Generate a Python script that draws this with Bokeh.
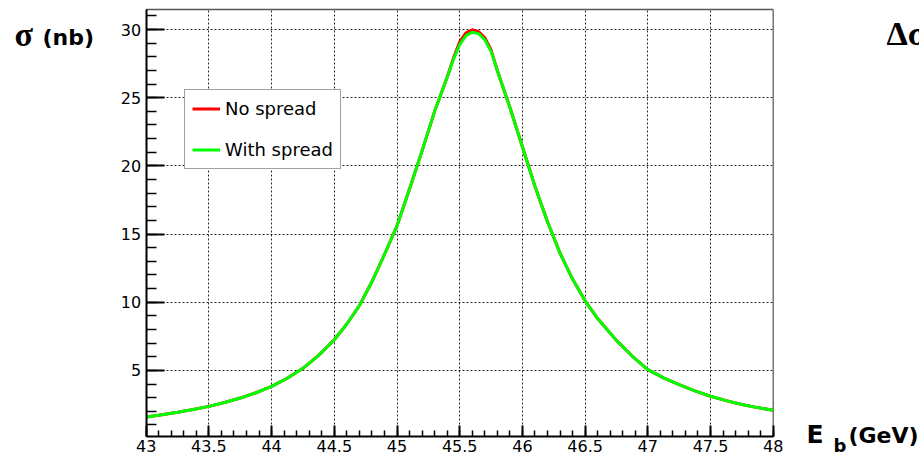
import numpy as np
from bokeh.plotting import figure
from bokeh.models import (Range1d, FixedTicker, CustomJSTickFormatter, Label, Grid)
from bokeh.embed import file_html
from bokeh.resources import INLINE

# ---- data ----
energy = [43.0, 43.125, 43.25, 43.375, 43.5, 43.625, 43.75, 43.875, 44.0, 44.125,
          44.25, 44.375, 44.5, 44.6, 44.7, 44.8, 44.9,
          45.0, 45.1, 45.2, 45.3, 45.4, 45.45, 45.5, 45.55, 45.6, 45.65, 45.7,
          45.75, 45.8, 45.9, 46.0, 46.1, 46.2, 46.3, 46.4, 46.5, 46.6, 46.675,
          46.75, 46.875, 47.0, 47.125, 47.25, 47.375, 47.5, 47.625, 47.75, 47.875, 48.0]
sigma_with_spread = [1.58, 1.74, 1.93, 2.13, 2.36, 2.64, 2.97, 3.36, 3.83, 4.42,
                     5.15, 6.1, 7.25, 8.4, 9.75, 11.5, 13.5,
                     15.6, 18.3, 21.1, 24.0, 26.5, 27.8, 28.9, 29.55, 29.8, 29.7, 29.25,
                     28.4, 27.0, 24.3, 21.4, 18.5, 15.9, 13.6, 11.7, 10.1, 8.8, 8.0,
                     7.2, 6.05, 5.05, 4.45, 3.95, 3.5, 3.1, 2.78, 2.5, 2.27, 2.07]
sigma_no_spread = [1.58, 1.74, 1.93, 2.13, 2.36, 2.64, 2.97, 3.36, 3.83, 4.42,
                   5.15, 6.1, 7.25, 8.4, 9.75, 11.5, 13.5,
                   15.6, 18.3, 21.1, 24.0, 26.5, 27.9, 29.1, 29.75, 29.98, 29.85, 29.4,
                   28.5, 27.0, 24.3, 21.4, 18.5, 15.9, 13.6, 11.7, 10.1, 8.8, 8.0,
                   7.2, 6.05, 5.05, 4.45, 3.95, 3.5, 3.1, 2.78, 2.5, 2.27, 2.07]
series_labels = ["No spread", "With spread"]

x_ticks = [43, 43.5, 44, 44.5, 45, 45.5, 46, 46.5, 47, 47.5, 48]
x_tick_labels = ["43", "43.5", "44", "44.5", "45", "45.5", "46", "46.5", "47", "47.5", "48"]
y_ticks = [5, 10, 15, 20, 25, 30]
y_tick_labels = ["5", "10", "15", "20", "25", "30"]

x_range = (43.0, 48.0)
y_range = (0.15, 31.47)

# ---- layout (pixels) ----
W, H = 919, 457
plot_left, plot_right, plot_top, plot_bottom = 145.7, 772.7, 9.0, 436.0

sx = (plot_right - plot_left) / (x_range[1] - x_range[0])
sy = (plot_bottom - plot_top) / (y_range[1] - y_range[0])
full_x = (x_range[0] - plot_left / sx, x_range[1] + (W - plot_right) / sx)
full_y = (y_range[0] - (H - plot_bottom) / sy, y_range[1] + plot_top / sy)

p = figure(width=W, height=H, output_backend="svg", toolbar_location=None,
           title=None, x_range=Range1d(*full_x), y_range=Range1d(*full_y),
           min_border=0, min_border_left=0, min_border_right=0,
           min_border_top=0, min_border_bottom=0)
p.background_fill_color = "white"
p.border_fill_color = "white"
p.outline_line_color = None

# ---- axes ----
xt = FixedTicker(ticks=x_ticks,
                 minor_ticks=[round(v, 1) for v in np.arange(43.0, 48.001, 0.1)])
yt = FixedTicker(ticks=y_ticks, minor_ticks=list(range(1, 32)))
p.xaxis.ticker = xt
p.yaxis.ticker = yt
p.xaxis.formatter = CustomJSTickFormatter(
    args=dict(t=x_ticks, l=x_tick_labels),
    code="const i = t.indexOf(tick); return i >= 0 ? l[i] : '';")
p.yaxis.formatter = CustomJSTickFormatter(
    args=dict(t=y_ticks, l=y_tick_labels),
    code="const i = t.indexOf(tick); return i >= 0 ? l[i] : '';")
p.xaxis.fixed_location = y_range[0]
p.xaxis.bounds = x_range
p.yaxis.fixed_location = x_range[0]
p.yaxis.bounds = y_range

for ax in (p.xaxis[0], p.yaxis[0]):
    ax.axis_line_color = "black"
    ax.axis_line_width = 2
    ax.major_tick_line_color = "black"
    ax.major_tick_line_width = 2
    ax.minor_tick_line_color = "black"
    ax.minor_tick_line_width = 1.5
    ax.major_tick_out = 0
    ax.minor_tick_out = 0
    ax.major_label_text_font = "DejaVu Sans"
    ax.major_label_text_font_size = "16px"
    ax.major_label_text_color = "black"

p.xaxis.major_tick_in = 11
p.xaxis.minor_tick_in = 6
p.xaxis.major_label_standoff = 3
p.yaxis.major_tick_in = 18
p.yaxis.minor_tick_in = 10
p.yaxis.major_label_standoff = 5

# ---- grid ----
grid_style = dict(line_color="black", line_alpha=0.85, line_width=1, line_dash="2 2")
if "cross_bounds" in Grid.properties():
    p.xgrid.cross_bounds = y_range
    p.ygrid.cross_bounds = x_range
    for g in (p.xgrid[0], p.ygrid[0]):
        g.grid_line_color = grid_style["line_color"]
        g.grid_line_alpha = grid_style["line_alpha"]
        g.grid_line_width = grid_style["line_width"]
        g.grid_line_dash = grid_style["line_dash"]
else:
    p.xgrid.visible = False
    p.ygrid.visible = False
    p.segment(x0=x_ticks, x1=x_ticks, y0=[y_range[0]] * len(x_ticks),
              y1=[y_range[1]] * len(x_ticks), **grid_style)
    p.segment(x0=[x_range[0]] * len(y_ticks), x1=[x_range[1]] * len(y_ticks),
              y0=y_ticks, y1=y_ticks, **grid_style)

# frame border (top and right)
p.line([x_range[0], x_range[1]], [y_range[1], y_range[1]], line_color="#555555",
       line_width=1.5)
p.line([x_range[1], x_range[1]], [y_range[0], y_range[1]], line_color="#777777",
       line_width=1.5)

# ---- curves ----
p.line(energy, sigma_no_spread, line_color="#ff0000", line_width=3,
       legend_label=series_labels[0])
p.line(energy, sigma_with_spread, line_color="#00ff00", line_width=3,
       legend_label=series_labels[1])

lg = p.legend[0]
lg.location = (184, H - 169)
lg.label_text_font = "DejaVu Sans"
lg.label_text_font_size = "18px"
lg.label_text_color = "black"
lg.padding = 7
lg.spacing = 18
lg.margin = 0
lg.glyph_width = 28
lg.glyph_height = 23
lg.label_height = 23
lg.label_standoff = 5
lg.border_line_color = "#444444"
lg.border_line_width = 1.5
lg.background_fill_color = "white"
lg.background_fill_alpha = 1.0


def lab(x, y, text, font, size):
    p.add_layout(Label(x=x, y=H - y, x_units="screen", y_units="screen", text=text,
                       text_font=font, text_font_style="bold", text_baseline="alphabetic",
                       text_font_size=size, text_color="black"))


# texts: (x from left, y from top)
lab(14, 34, "σ", "Liberation Serif", "34px")
lab(42, 37, "(nb)", "DejaVu Sans", "22px")
lab(886, 33, "Δσ", "Liberation Serif", "34px")
lab(806, 434, "E", "DejaVu Sans", "25px")
lab(833, 445, "b", "DejaVu Sans", "18px")
lab(848, 435, "(GeV)", "DejaVu Sans", "22px")

html = file_html(p, INLINE)
html = html.replace("</head>", "<style>html,body{overflow:hidden;}</style></head>", 1)
open("out.html", "w").write(html)
